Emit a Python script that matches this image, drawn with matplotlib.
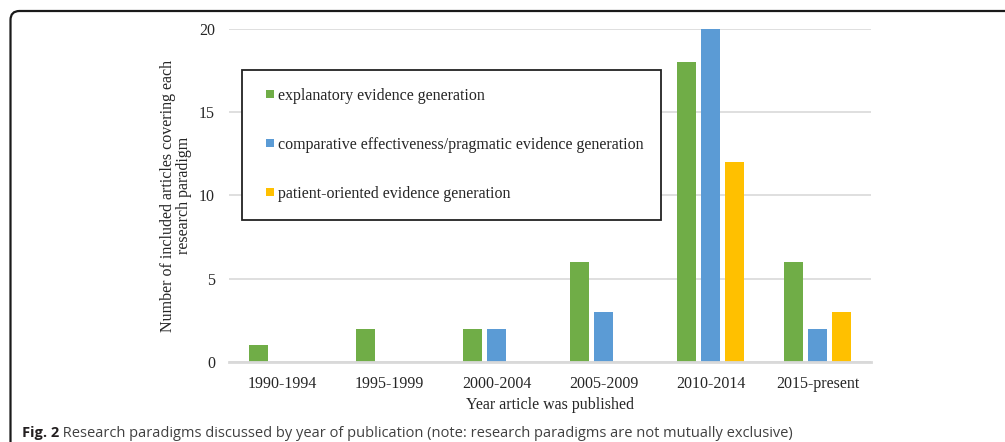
import matplotlib
matplotlib.use("Agg")
import matplotlib.pyplot as plt
import matplotlib.transforms as mtransforms
import numpy as np
from matplotlib.patches import FancyBboxPatch, Rectangle
from matplotlib.legend_handler import HandlerPatch, update_from_first_child
from matplotlib.container import BarContainer

categories = ["1990-1994", "1995-1999", "2000-2004", "2005-2009", "2010-2014", "2015-present"]
explanatory = [1, 2, 2, 6, 18, 6]
comparative = [0, 0, 2, 3, 20, 2]
patient = [0, 0, 0, 0, 12, 3]
series_names = ["explanatory evidence generation",
                "comparative effectiveness/pragmatic evidence generation",
                "patient-oriented evidence generation"]
colors = ["#70AD47", "#5B9BD5", "#FFC000"]
yticks = [0, 5, 10, 15, 20]

serif = ["Liberation Serif", "DejaVu Serif"]
plt.rcParams["font.family"] = serif
FS = 11.5
TXT = "#262626"

W, H = 1005, 442
fig = plt.figure(figsize=(W/100, H/100), dpi=100)
ax = fig.add_axes([229/W, 1-362/H, 642/W, 333/H])

x = np.arange(len(categories))
step = 0.22
width = 0.178
for i, (vals, name, c) in enumerate(zip([explanatory, comparative, patient], series_names, colors)):
    ax.bar(x + (i-1)*step, vals, width, color=c, label=name, zorder=3)

ax.set_xlim(-0.5, len(categories)-0.5)
ax.set_ylim(0, 20)
ax.set_yticks(yticks)
ax.set_xticks(x)
ax.set_xticklabels(categories)
ax.tick_params(axis="both", length=0, labelsize=FS, colors=TXT)
ax.tick_params(axis="y", pad=10)
ax.tick_params(axis="x", pad=10)
ax.yaxis.grid(True, color="#D9D9D9", linewidth=1.2, zorder=0)
for s in ["top", "right", "left"]:
    ax.spines[s].set_visible(False)
ax.spines["bottom"].set_color("#D9D9D9")
ax.spines["bottom"].set_linewidth(2)
ax.spines["bottom"].set_zorder(4)

ax.set_ylabel("Number of included articles covering each\nresearch paradigm", fontsize=FS,
              color=TXT, labelpad=5, linespacing=1.0)
ax.set_xlabel("Year article was published", fontsize=FS, color=TXT, labelpad=4)


def square_right(legend, orig_handle, xdescent, ydescent, width, height, fontsize):
    s = 0.5 * fontsize
    return Rectangle((width - xdescent - s, -ydescent + (height - s) / 2), s, s)


leg = ax.legend(loc="upper left", bbox_to_anchor=(242/W, 1-70/H), bbox_transform=fig.transFigure,
                fontsize=FS, frameon=True, fancybox=False, edgecolor="#222222",
                facecolor="white", framealpha=1,
                handlelength=0.9, handleheight=0.7, handletextpad=0.25,
                labelspacing=2.08, borderpad=1.1, borderaxespad=0,
                handler_map={BarContainer: HandlerPatch(patch_func=square_right,
                                                        update_func=update_from_first_child)})
leg.get_frame().set_linewidth(1.3)
leg.set_zorder(5)
for t in leg.get_texts():
    t.set_color(TXT)

# outer frame (pixel coordinates)
frame = FancyBboxPatch((10.5, -100), 1500, H - 11 + 100, boxstyle="round,pad=0,rounding_size=9",
                       transform=mtransforms.IdentityTransform(), facecolor="none",
                       edgecolor="#1a1a1a", linewidth=1.6)
fig.patches.append(frame)

sans = ["Open Sans", "DejaVu Sans"]
CFS = 10.5
t1 = fig.text(22/W, 1-437/H, "Fig. 2", fontsize=CFS, fontweight="bold", family=sans,
              color="#231F20", va="baseline", ha="left")
t2 = fig.text(0, 1-437/H, " Research paradigms discussed by year of publication (note: research paradigms are not mutually exclusive)",
              fontsize=CFS, family=sans, color="#404040", va="baseline", ha="left")
fig.canvas.draw()
bb = t1.get_window_extent()
t2.set_position((bb.x1/fig.bbox.width, 1-437/H))

fig.savefig("out.png", dpi=100)
